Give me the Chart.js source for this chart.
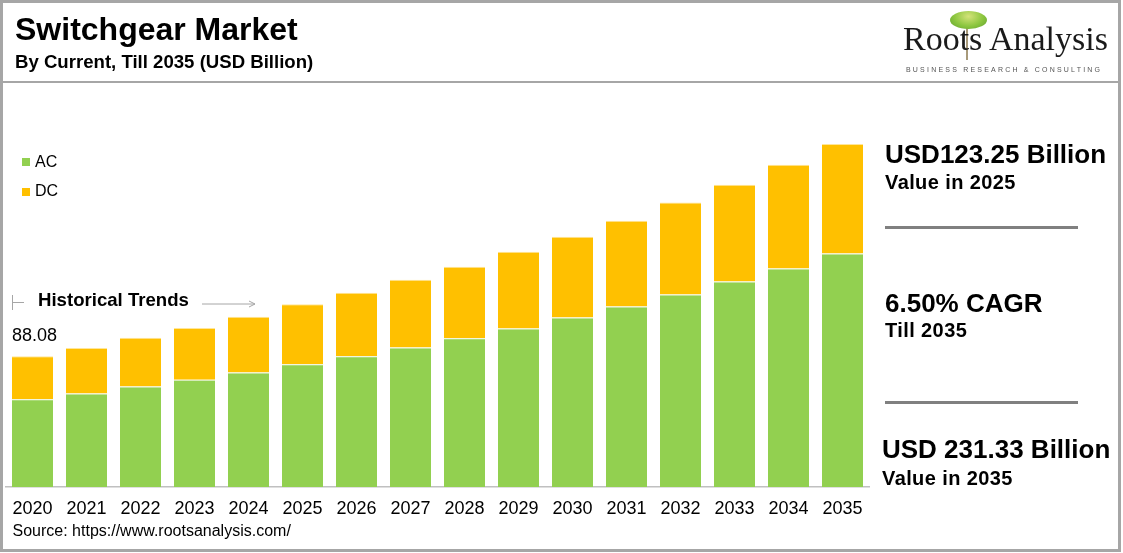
<!DOCTYPE html>
<html>
<head>
<meta charset="utf-8">
<title>Switchgear Market</title>
<script src="https://cdn.jsdelivr.net/npm/chart.js@4.4.1/dist/chart.umd.min.js"></script>
<style>
  html, body { margin: 0; padding: 0; background: #fff; }
  body { width: 1123px; height: 553px; position: relative; overflow: hidden;
         font-family: Arial, "Liberation Sans", sans-serif; color: #000; }
  .abs { position: absolute; white-space: nowrap; line-height: 1; }
  #frame { position: absolute; left: 0; top: 0; width: 1121px; height: 552px;
           border: 3px solid #a6a6a6; box-sizing: border-box; }
  #headLine { position: absolute; left: 0; top: 81px; width: 1121px; height: 2px; background: #a6a6a6; }
  #wrap { position: absolute; left: 0; top: 0; width: 1123px; height: 553px; }
  .big { font-weight: bold; font-size: 26px; }
  .small { font-weight: bold; font-size: 20px; letter-spacing: 0.4px; }
  .rule { position: absolute; left: 885px; width: 193px; height: 3px; background: #808080; }
  .sq { position: absolute; width: 8px; height: 8px; }
</style>
</head>
<body>
<div id="wrap"><canvas id="marketChart"></canvas></div>
<div id="frame"></div>
<div id="headLine"></div>

<div class="abs" style="left:15px;top:12.9px;font-size:32px;font-weight:bold;">Switchgear Market</div>
<div class="abs" style="left:15px;top:53.3px;font-size:18.6px;font-weight:bold;">By Current, Till 2035 (USD Billion)</div>

<!-- logo -->
<div style="position:absolute;left:966px;top:24px;width:2px;height:36px;background:#a89a7a;"></div>
<div style="position:absolute;left:950px;top:11px;width:37px;height:18px;border-radius:50%;
     background:radial-gradient(ellipse at 50% 30%, #d4e37a 0%, #8cc63f 55%, #5e9e2e 100%);"></div>
<div class="abs" style="left:903px;top:21.5px;font-size:34px;font-family:'Liberation Serif','Times New Roman',serif;color:#1a1a1a;">Roots Analysis</div>
<div class="abs" style="left:906px;top:65.8px;font-size:7px;letter-spacing:2.2px;color:#555;">BUSINESS RESEARCH &amp; CONSULTING</div>

<!-- legend -->
<div class="sq" style="left:22px;top:158px;background:#92d050;"></div>
<div class="abs" style="left:35px;top:154.2px;font-size:16px;">AC</div>
<div class="sq" style="left:22px;top:187.5px;background:#ffc000;"></div>
<div class="abs" style="left:35px;top:182.5px;font-size:16px;">DC</div>

<!-- historical trends -->
<div style="position:absolute;left:12px;top:295px;width:1px;height:15px;background:#a6a6a6;"></div>
<div style="position:absolute;left:12px;top:302px;width:12px;height:1px;background:#a6a6a6;"></div>
<div class="abs" style="left:38px;top:290.9px;font-size:18.6px;font-weight:bold;">Historical Trends</div>
<svg style="position:absolute;left:200px;top:298px;" width="60" height="12">
  <line x1="2" y1="6" x2="55" y2="6" stroke="#a6a6a6" stroke-width="1"/>
  <polyline points="49,3 55,6 49,9" fill="none" stroke="#a6a6a6" stroke-width="1"/>
</svg>

<!-- right panel -->
<div class="abs big" style="left:885px;top:141.3px;">USD123.25 Billion</div>
<div class="abs small" style="left:885px;top:172.4px;">Value in 2025</div>
<div class="rule" style="top:226px;"></div>
<div class="abs big" style="left:885px;top:289.7px;">6.50% CAGR</div>
<div class="abs small" style="left:885px;top:320.4px;">Till 2035</div>
<div class="rule" style="top:401px;"></div>
<div class="abs big" style="left:882px;top:436px;">USD 231.33 Billion</div>
<div class="abs small" style="left:882px;top:468.1px;">Value in 2035</div>

<div class="abs" style="left:12.5px;top:523.2px;font-size:16px;">Source: https://www.rootsanalysis.com/</div>

<script>
const years = ["2020", "2021", "2022", "2023", "2024", "2025", "2026", "2027",
               "2028", "2029", "2030", "2031", "2032", "2033", "2034", "2035"];
const acValues = [59.2, 63.0, 67.7, 72.4, 77.2, 82.8, 88.2, 94.0,
                  100.4, 106.9, 114.3, 121.7, 129.8, 138.6, 147.4, 157.5];
const dcValues = [28.9, 30.8, 32.9, 34.9, 37.6, 40.5, 42.8, 45.7,
                  48.1, 51.7, 54.5, 57.9, 62.1, 65.3, 70.0, 73.8];
const firstLabel = "88.08";

Chart.defaults.font.family = 'Arial, "Liberation Sans", sans-serif';
Chart.defaults.color = "#000";

// value label above the first bar, left aligned with it
const firstValuePlugin = {
    id: "firstValue",
    afterDatasetsDraw(chart) {
        const bar = chart.getDatasetMeta(1).data[0];
        const ctx = chart.ctx;
        ctx.save();
        ctx.font = '18px Arial, "Liberation Sans", sans-serif';
        ctx.fillStyle = "#000";
        ctx.textAlign = "left";
        ctx.textBaseline = "alphabetic";
        ctx.fillText(firstLabel, bar.x - bar.width / 2, bar.y - 15.3);
        ctx.restore();
    }
};

const ctx = document.getElementById("marketChart").getContext("2d");
new Chart(ctx, {
    type: "bar",
    data: {
        labels: years,
        datasets: [{
            label: "AC",
            data: acValues,
            backgroundColor: "#92d050",
            borderColor: "#e6f2d3",
            borderWidth: { top: 1, left: 0, right: 0, bottom: 0 },
            borderSkipped: false,
            categoryPercentage: 1,
            barPercentage: 0.76
        }, {
            label: "DC",
            data: dcValues,
            backgroundColor: "#ffc000",
            borderColor: "#ffe699",
            borderWidth: { top: 1, left: 0, right: 0, bottom: 0 },
            borderSkipped: false,
            categoryPercentage: 1,
            barPercentage: 0.76
        }]
    },
    options: {
        responsive: true,
        maintainAspectRatio: false,
        animation: false,
        layout: { padding: { left: 5.5, right: 253.5, top: 116.3, bottom: 22.4 } },
        plugins: {
            legend: { display: false },
            tooltip: { enabled: false }
        },
        scales: {
            x: {
                stacked: true,
                grid: { display: false, drawTicks: false },
                border: { display: true, color: "#c0c0c0", width: 1.5 },
                ticks: { font: { size: 18 }, color: "#000", padding: 11, maxRotation: 0, autoSkip: false }
            },
            y: {
                stacked: true,
                display: false,
                min: 0,
                max: 250
            }
        }
    },
    plugins: [firstValuePlugin]
});
</script>
</body>
</html>
